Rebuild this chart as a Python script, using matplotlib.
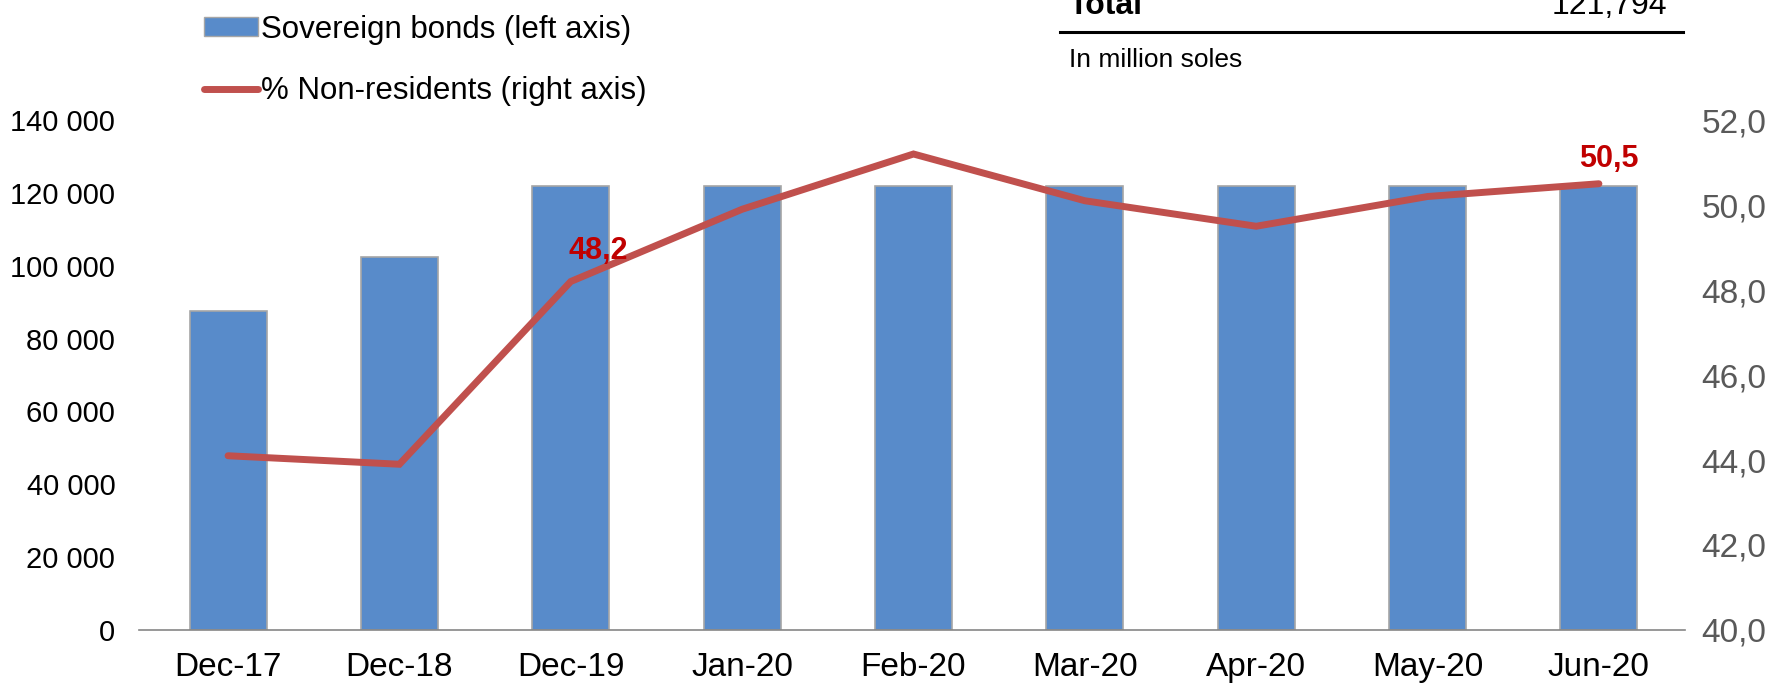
import matplotlib.pyplot as plt
from matplotlib.lines import Line2D
from matplotlib.patches import Patch
from matplotlib.ticker import FuncFormatter

plt.rcParams['font.family'] = ['Liberation Sans', 'DejaVu Sans']

months = ['Dec-17', 'Dec-18', 'Dec-19', 'Jan-20', 'Feb-20', 'Mar-20', 'Apr-20', 'May-20', 'Jun-20']
bonds = [87600, 102400, 121794, 121794, 121794, 121794, 121794, 121794, 121794]
non_res = [44.1, 43.9, 48.2, 49.9, 51.2, 50.1, 49.5, 50.2, 50.5]
labelled = {2: (20, 22), 8: (7, 18)}

bar_color = '#588BCA'
line_color = '#C0504D'

fig = plt.figure(figsize=(17.77, 6.83), dpi=100)
ax = fig.add_axes([0.0782, 0.0776, 0.8698, 0.7467])
ax2 = ax.twinx()

x = list(range(len(months)))
ax.bar(x, bonds, width=0.45, color=bar_color, edgecolor='#A6A6A6', linewidth=1.2, zorder=2)
ax2.plot(x, non_res, color=line_color, lw=5, solid_capstyle='round', solid_joinstyle='miter', zorder=3)

for i, off in labelled.items():
    ax2.annotate(f'{non_res[i]:.1f}'.replace('.', ','), (i, non_res[i]), xytext=off,
                 textcoords='offset points', ha='center', va='center',
                 fontsize=22, fontweight='bold', color='#C00000')

ax.set_xlim(-0.52, 8.5)
ax.set_ylim(0, 140000)
ax.set_yticks(range(0, 140001, 20000))
ax.yaxis.set_major_formatter(FuncFormatter(lambda v, p: f'{int(v):,}'.replace(',', ' ')))
ax2.set_ylim(40, 52)
ax2.set_yticks(range(40, 53, 2))
ax2.yaxis.set_major_formatter(FuncFormatter(lambda v, p: f'{v:.1f}'.replace('.', ',')))

ax.set_xticks(x)
ax.set_xticklabels(months)
for a in (ax, ax2):
    for s in ('top', 'left', 'right', 'bottom'):
        a.spines[s].set_visible(False)
ax.spines['bottom'].set_visible(True)
ax.spines['bottom'].set_color('#868686')
ax.spines['bottom'].set_linewidth(1.2)

ax.tick_params(axis='x', length=0, pad=16, labelsize=24)
ax.tick_params(axis='y', length=0, pad=17, labelsize=21, labelcolor='black')
ax2.tick_params(axis='y', length=0, pad=12, labelsize=24, labelcolor='#595959')

handles = [Patch(facecolor=bar_color, edgecolor='#A6A6A6'),
           Line2D([], [], color=line_color, lw=5, solid_capstyle='round')]
fig.legend(handles, ['Sovereign bonds (left axis)', '% Non-residents (right axis)'],
           loc='upper left', bbox_to_anchor=(0.1075, 0.997), frameon=False,
           fontsize=22.5, handlelength=1.75, handleheight=0.55, handletextpad=0.1,
           labelspacing=1.0, borderaxespad=0)

# summary box at the top right
fig.text(1069 / 1777, 1 - 14 / 683, 'Total', fontsize=23, fontweight='bold', va='baseline', ha='left')
fig.text(1667 / 1777, 1 - 14 / 683, '121,794', fontsize=23, va='baseline', ha='right')
fig.add_artist(Line2D([1060 / 1777, 1683 / 1777], [1 - 32 / 683] * 2, color='black', lw=2.2))
fig.text(1069 / 1777, 1 - 60 / 683, 'In million soles', fontsize=19, va='center', ha='left')

fig.savefig('out.png', dpi=100)
